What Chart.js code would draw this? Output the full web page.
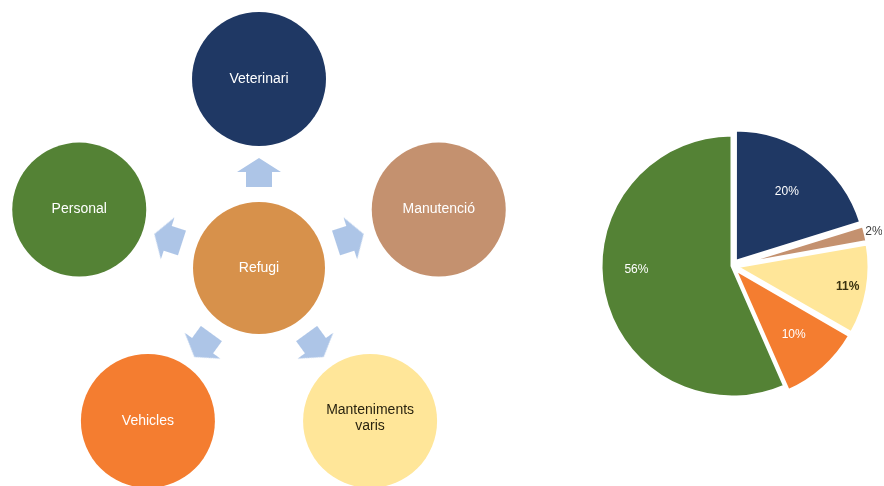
<!DOCTYPE html>
<html><head><meta charset="utf-8">
<script src="https://cdn.jsdelivr.net/npm/chart.js@4.4.0/dist/chart.umd.min.js"></script>
<style>
html,body{margin:0;padding:0;background:#fff;width:884px;height:486px;overflow:hidden;}
#diag{position:absolute;left:0;top:0;}
#pie{position:absolute;left:582px;top:116px;}
</style></head><body>
<canvas id="diag" width="560" height="486"></canvas>
<canvas id="pie" width="300" height="300"></canvas>
<script>
// ---- data ----
const centerNode = "Refugi";
const categories = ["Veterinari", "Manutenció", "Manteniments varis", "Vehicles", "Personal"];
const shares = [20, 2, 11, 10, 56];
const pctLabels = ["20%", "2%", "11%", "10%", "56%"];

// ---- styles ----
const sliceColors = ["#1f3864", "#c4916f", "#ffe699", "#f47d30", "#548235"];
const centerColor = "#d7914b";
const arrowColor = "#adc5e7";
const FONT = "'Liberation Sans', Arial, sans-serif";

// ---- diagram layout (pixel-like linear scales) ----
const hub = {x: 259, y: 268};
const ringR = 189, arrowR = 95;
const nodeRadius = 67, hubRadius = 66;
const angles = categories.map((_, i) => i * 360 / categories.length);
const rad = a => a * Math.PI / 180;

const nodePoints = [{x: hub.x, y: hub.y, r: hubRadius}].concat(
  angles.map(a => ({x: hub.x + ringR * Math.sin(rad(a)), y: hub.y - ringR * Math.cos(rad(a)), r: nodeRadius}))
);
const nodeLabels = [centerNode].concat(categories);
const nodeColors = [centerColor].concat(sliceColors);
const arrowPoints = angles.map(a => ({x: hub.x + arrowR * Math.sin(rad(a)), y: hub.y - arrowR * Math.cos(rad(a))}));

// arrow glyph
const arrowImg = document.createElement('canvas');
arrowImg.width = 44; arrowImg.height = 30;
(function(){
  const c = arrowImg.getContext('2d');
  c.fillStyle = arrowColor;
  c.beginPath();
  c.moveTo(22, 0); c.lineTo(44, 14); c.lineTo(35, 14); c.lineTo(35, 29);
  c.lineTo(9, 29); c.lineTo(9, 14); c.lineTo(0, 14); c.closePath();
  c.fill();
})();

function isLight(hex){
  const n = parseInt(hex.slice(1), 16);
  const r = n >> 16, g = (n >> 8) & 255, b = n & 255;
  return (0.299*r + 0.587*g + 0.114*b) > 190;
}

const nodeTextPlugin = {
  id: 'nodeText',
  afterDatasetsDraw(chart){
    const ctx = chart.ctx;
    const meta = chart.getDatasetMeta(0);
    ctx.save();
    ctx.font = "14px " + FONT;
    ctx.textAlign = 'center';
    ctx.textBaseline = 'middle';
    meta.data.forEach((el, i) => {
      const label = nodeLabels[i];
      ctx.fillStyle = isLight(nodeColors[i]) ? '#2a2410' : '#ffffff';
      let lines = [label];
      if (ctx.measureText(label).width > 2 * nodePoints[i].r - 24) lines = label.split(' ');
      const lh = 16;
      lines.forEach((ln, k) => {
        ctx.fillText(ln, el.x, el.y + (k - (lines.length - 1) / 2) * lh - (lines.length > 1 ? 3 : 0));
      });
    });
    ctx.restore();
  }
};

new Chart(document.getElementById('diag'), {
  type: 'bubble',
  data: {
    datasets: [
      {
        type: 'bubble',
        data: nodePoints,
        backgroundColor: nodeColors,
        borderWidth: 0,
        hoverRadius: 0,
        clip: false
      },
      {
        type: 'scatter',
        data: arrowPoints,
        pointStyle: arrowImg,
        pointRadius: 12,
        rotation: angles,
        backgroundColor: arrowColor,
        borderWidth: 0,
        clip: false
      }
    ]
  },
  options: {
    responsive: false,
    animation: false,
    layout: {padding: 0, autoPadding: false},
    events: [],
    plugins: {legend: {display: false}, tooltip: {enabled: false}},
    scales: {
      x: {type: 'linear', min: 0, max: 560, display: false},
      y: {type: 'linear', min: 0, max: 486, reverse: true, display: false}
    }
  },
  plugins: [nodeTextPlugin]
});

// ---- pie ----
function effectiveOffset(arc){
  const o = (arc.options.offset || 0) / 4;
  const circ = arc.endAngle - arc.startAngle;
  const fix = 1 - Math.sin(Math.min(Math.PI, circ || 0));
  return o * (1 + fix);
}

const pieLabelPlugin = {
  id: 'pieLabels',
  afterDatasetsDraw(chart, args, opts){
    const ctx = chart.ctx;
    const meta = chart.getDatasetMeta(0);
    ctx.save();
    ctx.textAlign = 'center';
    ctx.textBaseline = 'middle';
    meta.data.forEach((arc, i) => {
      const mid = (arc.startAngle + arc.endAngle) / 2 + (opts.shift[i] || 0);
      const off = effectiveOffset(arc);
      const f = opts.radii[i];
      const d = f > 1 ? arc.outerRadius + off + 9 : f * arc.outerRadius + off;
      const x = arc.x + Math.cos(mid) * d, y = arc.y + Math.sin(mid) * d;
      ctx.font = (opts.bold[i] ? "bold " : "") + "12px " + FONT;
      ctx.fillStyle = opts.colors[i];
      ctx.fillText(pctLabels[i], x, y);
    });
    ctx.restore();
  }
};

new Chart(document.getElementById('pie'), {
  type: 'pie',
  data: {
    labels: categories,
    datasets: [{
      data: shares,
      backgroundColor: sliceColors,
      borderColor: '#ffffff',
      borderWidth: 3,
      offset: [23, 13, 18, 17, 0],
      radius: 131
    }]
  },
  options: {
    responsive: false,
    animation: false,
    events: [],
    layout: {padding: 0},
    plugins: {
      legend: {display: false},
      tooltip: {enabled: false},
      pieLabels: {
        radii: [0.66, 1.1, 0.85, 0.66, 0.73],
        shift: [0, 0, 0, 0, 0.17],
        colors: ['#ffffff', '#404040', '#3a3210', '#ffffff', '#ffffff'],
        bold: [false, false, true, false, false]
      }
    }
  },
  plugins: [pieLabelPlugin]
});
</script>
</body></html>
